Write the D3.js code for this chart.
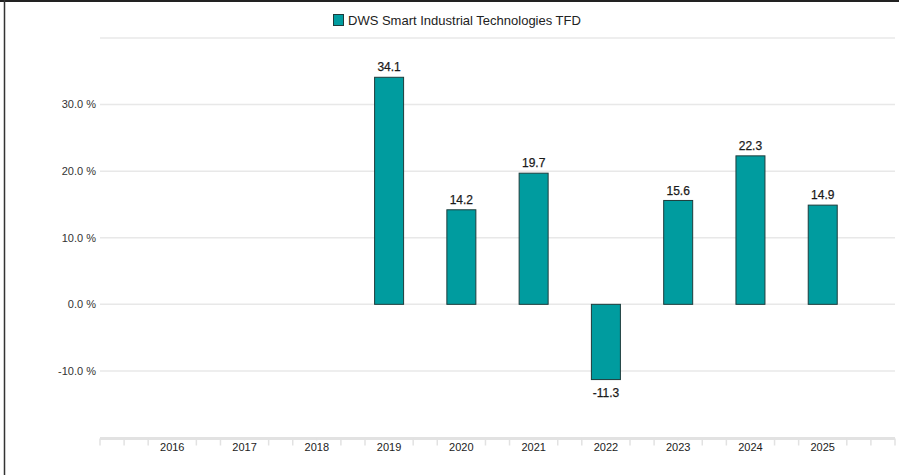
<!DOCTYPE html>
<html><head><meta charset="utf-8">
<script src="https://cdn.jsdelivr.net/npm/d3@7"></script>
<style>
html,body{margin:0;padding:0;background:#fff;}
svg{display:block;font-family:"Liberation Sans",Arial,sans-serif;}
</style></head>
<body>
<svg id="chart" width="899" height="475"></svg>
<script>
const seriesName = "DWS Smart Industrial Technologies TFD";
const years = [2016, 2017, 2018, 2019, 2020, 2021, 2022, 2023, 2024, 2025];
const values = [null, null, null, 34.1, 14.2, 19.7, -11.3, 15.6, 22.3, 14.9];
const yTicks = [-10, 0, 10, 20, 30];
const gridTicks = [-10, 0, 10, 20, 30, 40];

const svg = d3.select("#chart");
const W = 899, H = 475;
const color = "#009c9f";
const fmt = v => d3.format(".1f")(v).replace("\u2212", "-");

// frame
svg.append("line").attr("x1",0).attr("x2",W).attr("y1",1).attr("y2",1).attr("stroke","#222").attr("stroke-width",2);
svg.append("line").attr("x1",4.5).attr("x2",4.5).attr("y1",0).attr("y2",H).attr("stroke","#333").attr("stroke-width",1.5);

const x = d3.scaleLinear().domain([2015, 2026]).range([100, 895]);
const y = d3.scaleLinear().domain([-20, 40]).range([437.5, 38]);

// gridlines
svg.append("g").selectAll("line").data(gridTicks).join("line")
  .attr("x1", 100).attr("x2", 895)
  .attr("y1", d => y(d)).attr("y2", d => y(d))
  .attr("stroke", "#e8e8e8").attr("stroke-width", 1.5);

// y labels
svg.append("g").selectAll("text").data(yTicks).join("text")
  .attr("x", 96).attr("y", d => y(d)).attr("dy", "0.35em")
  .attr("text-anchor", "end").attr("font-size", 11).attr("fill", "#333")
  .text(d => fmt(d) + " %");

// x axis
const xAxisY = y(-20);
svg.append("line").attr("x1", 100).attr("x2", 895).attr("y1", xAxisY + 1).attr("y2", xAxisY + 1)
  .attr("stroke", "#e2e2e2").attr("stroke-width", 3);
const minor = d3.range(0, 34).map(i => 2015 + i / 3);
svg.append("g").selectAll("line").data(minor).join("line")
  .attr("x1", d => x(d)).attr("x2", d => x(d))
  .attr("y1", xAxisY + 1).attr("y2", xAxisY + 8)
  .attr("stroke", "#e2e2e2").attr("stroke-width", 1.5);
svg.append("g").selectAll("rect").data(years).join("rect")
  .attr("x", d => x(d) - 16).attr("y", xAxisY + 3).attr("width", 32).attr("height", 8).attr("fill", "#fff");
svg.append("g").selectAll("text").data(years).join("text")
  .attr("x", d => x(d)).attr("y", xAxisY + 10).attr("dy", "0.35em")
  .attr("text-anchor", "middle").attr("font-size", 11).attr("fill", "#222")
  .text(d => d);

// bars
const data = years.map((yr, i) => ({yr, v: values[i]})).filter(d => d.v !== null);
const bw = 29;
svg.append("g").selectAll("rect").data(data).join("rect")
  .attr("x", d => x(d.yr) - bw / 2)
  .attr("y", d => y(Math.max(0, d.v)))
  .attr("width", bw)
  .attr("height", d => Math.abs(y(d.v) - y(0)))
  .attr("fill", color).attr("stroke", "#1e3c3c").attr("stroke-width", 1);

// value labels
svg.append("g").selectAll("text").data(data).join("text")
  .attr("x", d => x(d.yr))
  .attr("y", d => d.v >= 0 ? y(d.v) - 10 : y(d.v) + 13)
  .attr("dy", "0.35em")
  .attr("text-anchor", "middle").attr("font-size", 12).attr("fill", "#1a1a1a")
  .attr("stroke", "#1a1a1a").attr("stroke-width", 0.25)
  .text(d => fmt(d.v));

// legend
const lg = svg.append("g").attr("transform", "translate(333,14)");
lg.append("rect").attr("x", 0.5).attr("y", 0.5).attr("width", 10).attr("height", 11)
  .attr("fill", color).attr("stroke", "#1e3c3c").attr("stroke-width", 1);
lg.append("text").attr("x", 15).attr("y", 6).attr("dy", "0.35em")
  .attr("font-size", 13).attr("fill", "#222").text(seriesName);
</script>
</body></html>
